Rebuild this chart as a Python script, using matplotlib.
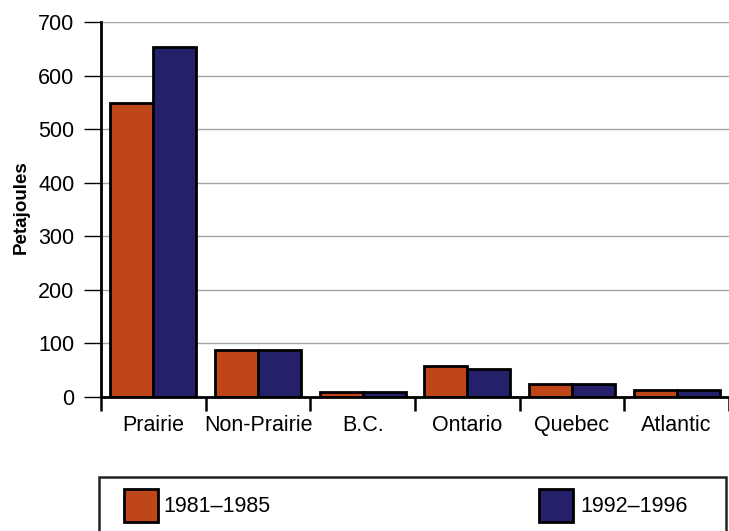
import numpy as np
import matplotlib
matplotlib.use("Agg")
import matplotlib.pyplot as plt
from matplotlib.patches import Rectangle
from matplotlib.ticker import FixedLocator, NullFormatter

plt.rcParams['font.family'] = ['Liberation Sans', 'DejaVu Sans']

# Energy use by region, petajoules
regions = ['Prairie', 'Non-Prairie', 'B.C.', 'Ontario', 'Quebec', 'Atlantic']
series_labels = ['1981\u20131985', '1992\u20131996']
values_1981_1985 = [548, 88, 9, 58, 24, 13]
values_1992_1996 = [653, 88, 9, 53, 24, 13]
y_ticks = [0, 100, 200, 300, 400, 500, 600, 700]

colors = ['#BF4619', '#24216A']
fs = 15.5

W, H = 729, 531
fig = plt.figure(figsize=(W / 100, H / 100), dpi=100)
ax = fig.add_axes([101 / W, 1 - 397 / H, 1 - 101 / W, (397 - 22) / H])

x = np.arange(len(regions)) + 0.5
bw = 0.41
for off, vals, col, lab in [(-bw / 2, values_1981_1985, colors[0], series_labels[0]),
                            (bw / 2, values_1992_1996, colors[1], series_labels[1])]:
    ax.bar(x + off, vals, width=bw, color=col, edgecolor='black',
           linewidth=2.0, label=lab, zorder=3)

ax.set_xlim(0, len(regions))
ax.set_ylim(0, 700)
ax.set_yticks(y_ticks)
ax.set_yticklabels([str(v) for v in y_ticks])
ax.yaxis.grid(True, color='#a6a6a6', linewidth=1.0, zorder=0)
ax.set_axisbelow(True)

# category boundaries carry the tick marks, centres carry the labels
ax.xaxis.set_major_locator(FixedLocator(np.arange(len(regions) + 1)))
ax.xaxis.set_major_formatter(NullFormatter())
ax.xaxis.set_minor_locator(FixedLocator(x))
ax.set_xticklabels(regions, minor=True)
ax.tick_params(axis='x', which='major', length=10, width=1.8, direction='out')
ax.tick_params(axis='x', which='minor', length=0, pad=13, labelsize=fs)
ax.tick_params(axis='y', length=12, width=1.0, pad=7, labelsize=fs)

for s in ['top', 'right']:
    ax.spines[s].set_visible(False)
for s in ['left', 'bottom']:
    ax.spines[s].set_linewidth(2.0)
    ax.spines[s].set_zorder(4)

fig.text(21 / W, 1 - 207 / H, 'Petajoules', rotation=90, fontsize=13.5,
         fontweight='bold', ha='center', va='center')

# legend box along the bottom
fig.patches.append(Rectangle((99 / W, -0.05), (726 - 99) / W, 0.05 + (1 - 477 / H),
                             transform=fig.transFigure, fill=False,
                             edgecolor='#222222', linewidth=1.8))
for px, tx, col, lab in [(124, 163, colors[0], series_labels[0]),
                         (539, 580, colors[1], series_labels[1])]:
    fig.patches.append(Rectangle((px / W, 1 - 522 / H), 34 / W, 33 / H,
                                 transform=fig.transFigure, facecolor=col,
                                 edgecolor='black', linewidth=2.0))
    fig.text(tx / W, 1 - 506 / H, lab, fontsize=fs, ha='left', va='center')

fig.savefig('out.png', dpi=100)
